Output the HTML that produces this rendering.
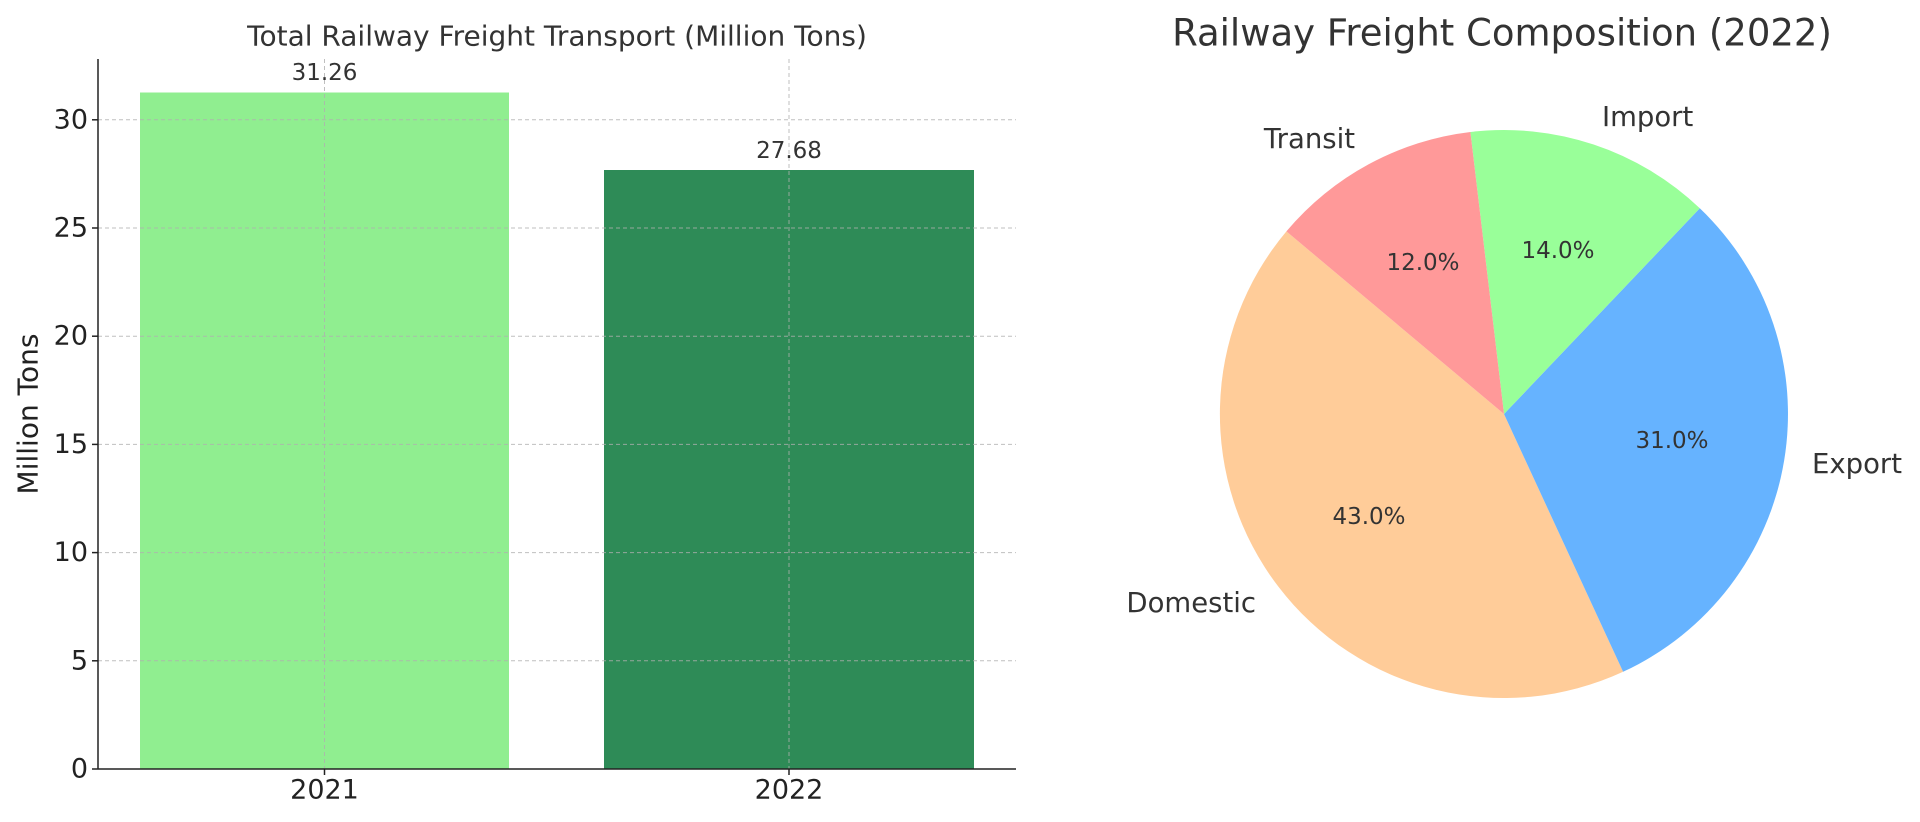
<!DOCTYPE html>
<html><head><meta charset="utf-8"><style>
html,body{margin:0;padding:0;background:#fff;}
svg{display:block;font-family:"DejaVu Sans","Liberation Sans",sans-serif;}
</style></head><body>
<svg width="1920" height="822" viewBox="0 0 1920 822" xmlns="http://www.w3.org/2000/svg">
<rect width="1920" height="822" fill="#fff"/>
<!-- bar chart -->
<text x="557" y="36" font-size="28" fill="#333" text-anchor="middle" dominant-baseline="central">Total Railway Freight Transport (Million Tons)</text>
<rect x="140" y="92.5" width="369" height="676.5" fill="#90ee90"/>
<rect x="604" y="170" width="370" height="599" fill="#2e8b57"/>
<g stroke="#b0b0b0" stroke-width="1" stroke-dasharray="4,3" opacity="0.8">
<line x1="98" x2="1016" y1="660.8" y2="660.8"/>
<line x1="98" x2="1016" y1="552.6" y2="552.6"/>
<line x1="98" x2="1016" y1="444.4" y2="444.4"/>
<line x1="98" x2="1016" y1="336.2" y2="336.2"/>
<line x1="98" x2="1016" y1="228" y2="228"/>
<line x1="98" x2="1016" y1="119.8" y2="119.8"/>
<line x1="324.5" x2="324.5" y1="59" y2="769"/>
<line x1="789" x2="789" y1="59" y2="769"/>
</g>
<g stroke="#222" stroke-width="1.5">
<line x1="98" x2="98" y1="59" y2="769"/>
<line x1="98" x2="1016" y1="769" y2="769"/>
<line x1="92" x2="98" y1="769" y2="769"/>
<line x1="92" x2="98" y1="660.8" y2="660.8"/>
<line x1="92" x2="98" y1="552.6" y2="552.6"/>
<line x1="92" x2="98" y1="444.4" y2="444.4"/>
<line x1="92" x2="98" y1="336.2" y2="336.2"/>
<line x1="92" x2="98" y1="228" y2="228"/>
<line x1="92" x2="98" y1="119.8" y2="119.8"/>
<line x1="324.5" x2="324.5" y1="769" y2="775"/>
<line x1="789" x2="789" y1="769" y2="775"/>
</g>
<g font-size="27" fill="#222" text-anchor="end" dominant-baseline="central">
<text x="88" y="769">0</text><text x="88" y="660.8">5</text><text x="88" y="552.6">10</text>
<text x="88" y="444.4">15</text><text x="88" y="336.2">20</text><text x="88" y="228">25</text><text x="88" y="119.8">30</text>
</g>
<g font-size="27" fill="#222" text-anchor="middle" dominant-baseline="central">
<text x="324.5" y="790">2021</text><text x="789" y="790">2022</text>
</g>
<text transform="translate(28,414) rotate(-90)" font-size="28" fill="#222" text-anchor="middle" dominant-baseline="central">Million Tons</text>
<g font-size="23" fill="#333" text-anchor="middle" dominant-baseline="central">
<text x="324.5" y="73">31.26</text><text x="789" y="151">27.68</text>
</g>
<!-- pie -->
<text x="1502" y="33" font-size="37" fill="#333" text-anchor="middle" dominant-baseline="central">Railway Freight Composition (2022)</text>
<path d="M1504,414 L1286.4,231.4 A284,284 0 0 0 1623.1,671.8 Z" fill="#ffcc99"/>
<path d="M1504,414 L1623.1,671.8 A284,284 0 0 0 1699.8,208.3 Z" fill="#66b3ff"/>
<path d="M1504,414 L1699.8,208.3 A284,284 0 0 0 1470.4,132.0 Z" fill="#99ff99"/>
<path d="M1504,414 L1470.4,132.0 A284,284 0 0 0 1286.4,231.4 Z" fill="#ff9999"/>
<g font-size="27.5" fill="#333" dominant-baseline="central">
<text x="1256" y="603" text-anchor="end">Domestic</text>
<text x="1812" y="464" text-anchor="start">Export</text>
<text x="1602" y="117" text-anchor="start">Import</text>
<text x="1355" y="139" text-anchor="end">Transit</text>
</g>
<g font-size="23" fill="#333" text-anchor="middle" dominant-baseline="central">
<text x="1369" y="517">43.0%</text>
<text x="1672" y="441">31.0%</text>
<text x="1558" y="251">14.0%</text>
<text x="1423" y="263">12.0%</text>
</g>
</svg>
</body></html>
